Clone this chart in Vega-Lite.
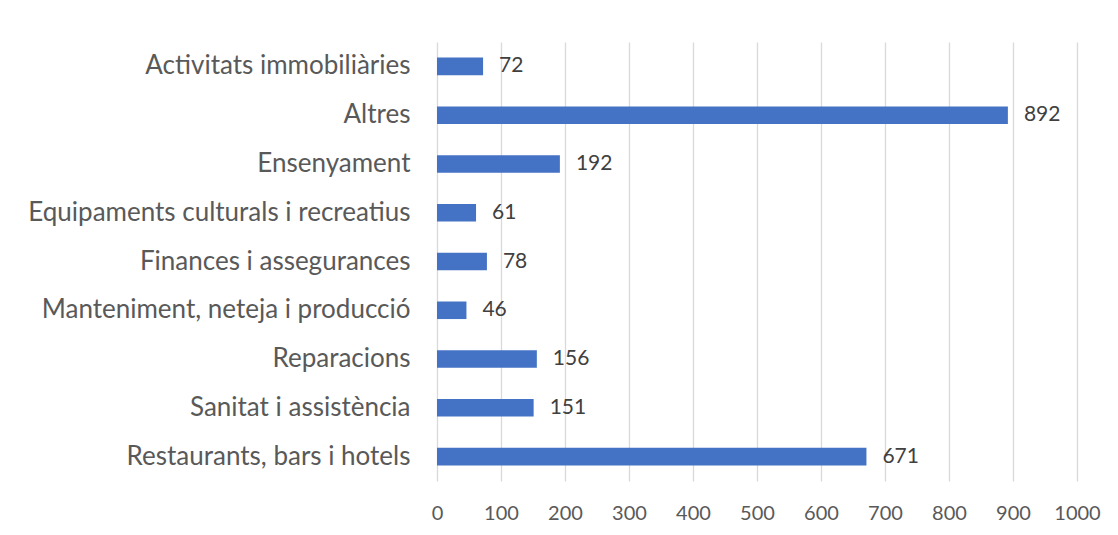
{
  "$schema": "https://vega.github.io/schema/vega-lite/v6.json",
  "width": 640,
  "height": 439,
  "autosize": {"type": "none"},
  "padding": {"left": 437, "top": 42, "right": 41, "bottom": 54},
  "background": "white",
  "config": {
    "view": {"stroke": null},
    "font": "Lato",
    "axis": {"labelFont": "Lato", "labelColor": "#595959", "gridColor": "#D9D9D9", "gridWidth": 1.3}
  },
  "data": {
    "values": [
      {"sector": "Activitats immobiliàries", "value": 72},
      {"sector": "Altres", "value": 892},
      {"sector": "Ensenyament", "value": 192},
      {"sector": "Equipaments culturals i recreatius", "value": 61},
      {"sector": "Finances i assegurances", "value": 78},
      {"sector": "Manteniment, neteja i producció", "value": 46},
      {"sector": "Reparacions ", "value": 156},
      {"sector": "Sanitat i assistència", "value": 151},
      {"sector": "Restaurants, bars i hotels", "value": 671}
    ]
  },
  "encoding": {
    "y": {
      "field": "sector",
      "type": "nominal",
      "sort": null,
      "scale": {"paddingInner": 0.64, "paddingOuter": 0.32},
      "axis": {"title": null, "ticks": false, "domain": false, "labelFontSize": 26, "labelPadding": 27, "labelLimit": 500}
    },
    "x": {
      "field": "value",
      "type": "quantitative",
      "scale": {"domain": [0, 1000], "nice": false},
      "axis": {"title": null, "values": [0,100,200,300,400,500,600,700,800,900,1000], "format": "d", "ticks": false, "domain": false, "labelFontSize": 20, "labelPadding": 22, "grid": true, "labelFlush": false}
    }
  },
  "layer": [
    {"mark": {"type": "bar", "color": "#4472C4"}},
    {"mark": {"type": "text", "align": "left", "dx": 16, "fontSize": 21, "color": "#404040", "baseline": "middle"},
     "encoding": {"text": {"field": "value", "type": "quantitative"}}}
  ]
}
